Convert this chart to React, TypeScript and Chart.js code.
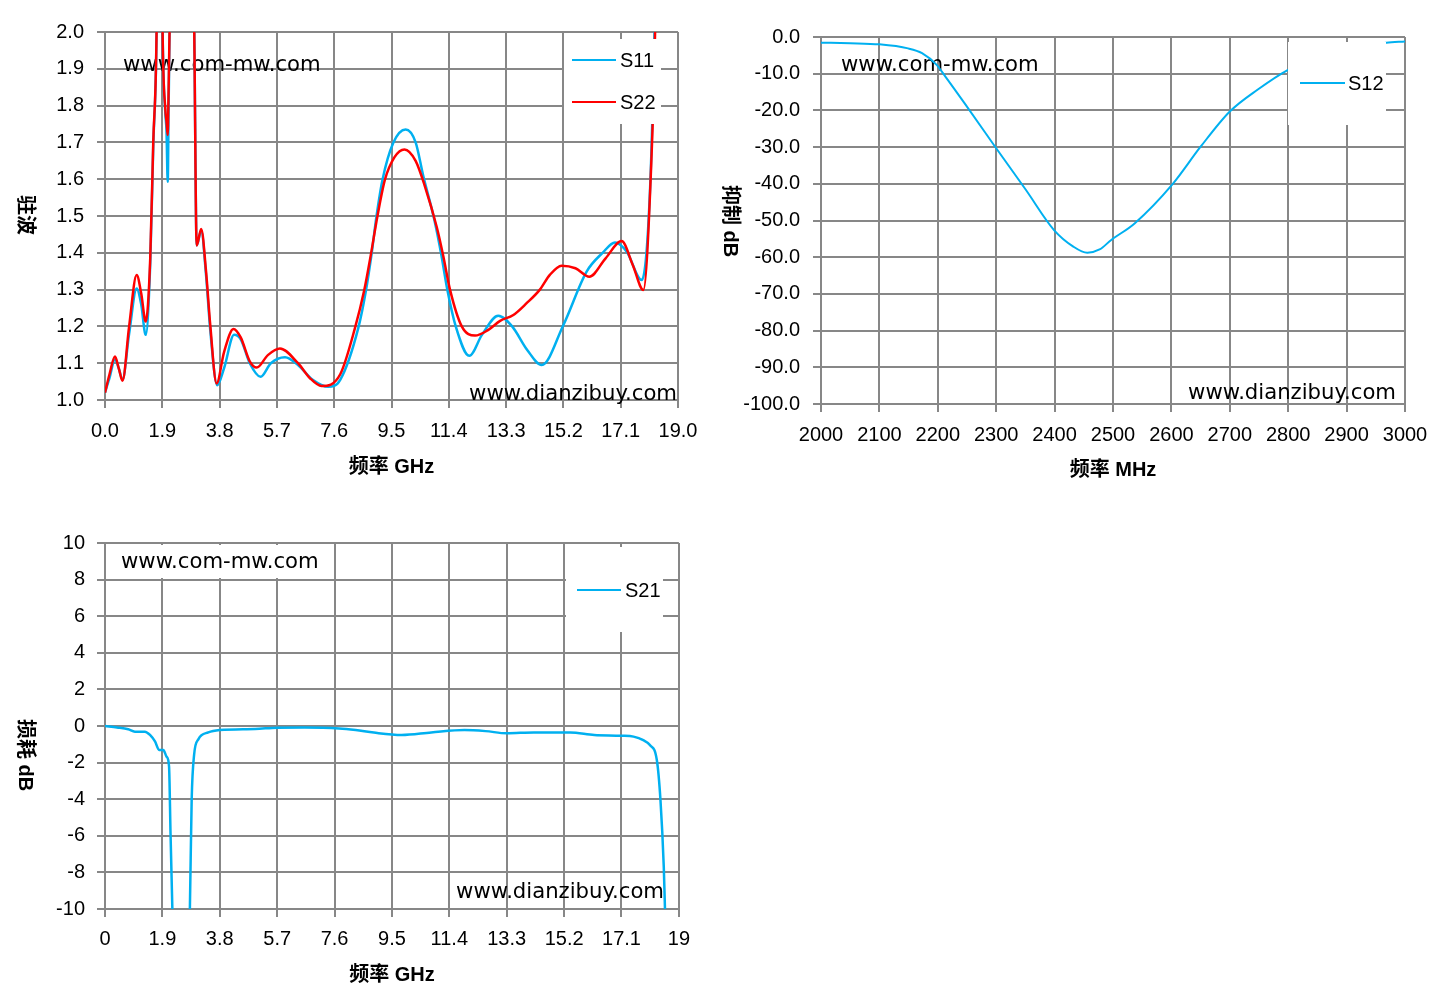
import React, { useEffect, useRef } from 'react';
import { Chart, registerables } from 'chart.js';

Chart.register(...registerables);

// ---------- data ----------
// Chart 1: VSWR (S11 / S22) vs frequency (GHz)
const s11Freq = [0, 0.15, 0.33, 0.46, 0.58, 0.8, 1.05, 1.2, 1.35, 1.5, 1.6, 1.71, 1.81, 1.91, 2.0, 2.04, 2.08, 2.11, 2.14, 2.5, 2.96, 3.04, 3.19, 3.35, 3.49, 3.72, 3.95, 4.28, 4.5, 4.8, 5.16, 5.5, 5.97, 6.4, 6.9, 7.4, 7.8, 8.4, 8.65, 8.84, 9.0, 9.2, 9.56, 9.97, 10.3, 10.55, 10.92, 11.14, 11.35, 11.63, 12.08, 12.5, 13.04, 13.5, 14.0, 14.48, 15.2, 15.97, 16.5, 16.91, 17.3, 17.8, 18.07, 18.22, 18.4];
const s11Vswr = [1.02, 1.06, 1.11, 1.085, 1.055, 1.18, 1.303, 1.26, 1.177, 1.37, 1.69, 2.0, 3.0, 2.0, 1.78, 1.73, 1.593, 1.8, 2.0, 5.0, 2.0, 1.42, 1.46, 1.34, 1.19, 1.04, 1.087, 1.177, 1.165, 1.1, 1.063, 1.1, 1.116, 1.095, 1.054, 1.036, 1.055, 1.196, 1.296, 1.397, 1.498, 1.598, 1.699, 1.735, 1.7, 1.61, 1.49, 1.4, 1.3, 1.2, 1.12, 1.177, 1.229, 1.2, 1.136, 1.095, 1.204, 1.349, 1.4, 1.428, 1.403, 1.326, 1.566, 2.0, 2.8];

const s22Freq = [0, 0.15, 0.33, 0.46, 0.58, 0.8, 1.05, 1.2, 1.35, 1.5, 1.6, 1.71, 1.81, 1.91, 2.0, 2.04, 2.08, 2.11, 2.14, 2.5, 2.96, 3.04, 3.19, 3.35, 3.49, 3.7, 3.95, 4.26, 4.5, 4.8, 5.03, 5.4, 5.8, 6.4, 6.8, 7.18, 7.8, 8.29, 8.59, 8.82, 9.03, 9.28, 9.6, 9.93, 10.3, 10.61, 11.0, 11.22, 11.44, 11.83, 12.27, 12.7, 13.1, 13.54, 13.98, 14.42, 14.75, 15.14, 15.6, 16.06, 16.6, 17.13, 17.5, 17.85, 18.12, 18.24, 18.4];
const s22Vswr = [1.02, 1.07, 1.118, 1.085, 1.052, 1.2, 1.34, 1.29, 1.213, 1.385, 1.7, 2.0, 3.0, 2.0, 1.79, 1.756, 1.72, 1.85, 2.0, 5.0, 2.0, 1.42, 1.465, 1.35, 1.204, 1.045, 1.131, 1.193, 1.17, 1.105, 1.088, 1.122, 1.14, 1.1, 1.059, 1.038, 1.07, 1.196, 1.296, 1.397, 1.498, 1.598, 1.66, 1.681, 1.65, 1.58, 1.47, 1.39, 1.3, 1.2, 1.175, 1.19, 1.215, 1.231, 1.263, 1.3, 1.34, 1.365, 1.358, 1.335, 1.385, 1.432, 1.367, 1.299, 1.657, 2.0, 2.8];

// Chart 2: suppression S12 (dB) vs frequency (MHz)
const s12Freq = [2000, 2050, 2100, 2149, 2173, 2198, 2213, 2246, 2300, 2351, 2399, 2432, 2456, 2477, 2497, 2537, 2602, 2650, 2700, 2748, 2799, 2850, 2900, 2968, 3000];
const s12Db = [-1.55, -1.7, -2.0, -3.1, -4.4, -7.6, -10.8, -18.1, -30.3, -41.7, -52.6, -57.1, -58.8, -57.9, -55.3, -50.8, -40.1, -29.9, -20.3, -14.3, -9.0, -5.5, -3.2, -1.55, -1.2];

// Chart 3: insertion loss S21 (dB) vs frequency (GHz)
const s21Freq = [0, 0.4, 0.77, 0.99, 1.32, 1.49, 1.66, 1.79, 1.93, 2.04, 2.12, 2.17, 2.23, 2.5, 2.81, 2.87, 2.95, 3.09, 3.42, 3.8, 4.97, 5.7, 6.6, 7.75, 8.3, 8.9, 9.82, 10.8, 11.9, 12.6, 13.3, 14.2, 15.4, 16.2, 17.1, 17.5, 17.82, 18.04, 18.27, 18.39, 18.5, 18.54, 18.65];
const s21Db = [0, -0.08, -0.18, -0.31, -0.31, -0.49, -0.86, -1.31, -1.31, -1.68, -2.2, -5.9, -10, -30, -10, -4.0, -1.58, -0.73, -0.35, -0.22, -0.16, -0.09, -0.08, -0.13, -0.22, -0.36, -0.49, -0.35, -0.22, -0.28, -0.4, -0.35, -0.36, -0.49, -0.53, -0.58, -0.77, -1.04, -1.86, -4.04, -7.7, -10, -15];

// labels / texts
const wmTop = 'www.com-mw.com';
const wmBottom = 'www.dianzibuy.com';
const xTitleGHz = '频率 GHz';
const xTitleMHz = '频率 MHz';
const yTitleVswr = '驻波';
const yTitleSup = '抑制 dB';
const yTitleLoss = '损耗 dB';

// ---------- styles ----------
const GRID = '#878787';
const BLUE = '#00B0F0';
const RED = '#FF0000';
const SANS = '"Liberation Sans", Arial, sans-serif';
const TICK_FONT = { family: SANS, size: 20 };
const WM_FONT = '21.2px "DejaVu Sans", sans-serif';
const TITLE_FONT = 'bold 20px "Liberation Sans", "Noto Sans CJK SC", sans-serif';
const LEGEND_FONT = '20px "Liberation Sans", Arial, sans-serif';

const pts = (xs: number[], ys: number[]) => xs.map((x, i) => ({ x, y: ys[i] }));

type PanelCfg = {
  left: number; top: number; width: number; height: number;
  plot: { L: number; T: number; R: number; B: number }; // page coordinates
  datasets: { label: string; color: string; width: number; order: number; data: { x: number; y: number }[] }[];
  x: { min: number; max: number; step: number; fmt: (v: number) => string; pad: number };
  y: { min: number; max: number; step: number; fmt: (v: number) => string; pad: number };
  xTitle: string; xTitlePos: [number, number];
  yTitle: string; yTitlePos: [number, number];
  wm1: [number, number]; wm2: [number, number];
  mask?: [number, number, number, number];
  legend: { box: [number, number, number, number]; ys: number[]; line: [number, number]; textX: number };
};

function makeDecor(cfg: PanelCfg) {
  const ox = cfg.left, oy = cfg.top;
  return {
    id: 'decor',
    beforeDatasetsDraw(chart: any) {
      const ctx = chart.ctx as CanvasRenderingContext2D;
      ctx.save();
      if (cfg.mask) {
        const [mx, my, mw, mh] = cfg.mask;
        ctx.fillStyle = '#ffffff';
        ctx.fillRect(mx - ox, my - oy, mw, mh);
      }
      ctx.fillStyle = '#000000';
      ctx.font = WM_FONT;
      ctx.textBaseline = 'alphabetic';
      ctx.textAlign = 'left';
      ctx.fillText(wmTop, cfg.wm1[0] - ox, cfg.wm1[1] - oy);
      ctx.textAlign = 'right';
      ctx.fillText(wmBottom, cfg.wm2[0] - ox, cfg.wm2[1] - oy);
      ctx.restore();
    },
    afterDatasetsDraw(chart: any) {
      const ctx = chart.ctx as CanvasRenderingContext2D;
      const lg = cfg.legend;
      ctx.save();
      ctx.fillStyle = '#ffffff';
      ctx.fillRect(lg.box[0] - ox, lg.box[1] - oy, lg.box[2], lg.box[3]);
      chart.data.datasets.forEach((ds: any, i: number) => {
        const y = lg.ys[i] - oy;
        ctx.strokeStyle = ds.borderColor;
        ctx.lineWidth = 2;
        ctx.beginPath();
        ctx.moveTo(lg.line[0] - ox, y);
        ctx.lineTo(lg.line[1] - ox, y);
        ctx.stroke();
        ctx.fillStyle = '#000000';
        ctx.font = LEGEND_FONT;
        ctx.textAlign = 'left';
        ctx.textBaseline = 'middle';
        ctx.fillText(ds.label, lg.textX - ox, y + 1);
      });
      ctx.restore();
    },
    afterDraw(chart: any) {
      const ctx = chart.ctx as CanvasRenderingContext2D;
      ctx.save();
      ctx.fillStyle = '#000000';
      ctx.font = TITLE_FONT;
      ctx.textAlign = 'center';
      ctx.textBaseline = 'middle';
      ctx.fillText(cfg.xTitle, cfg.xTitlePos[0] - ox, cfg.xTitlePos[1] - oy);
      ctx.translate(cfg.yTitlePos[0] - ox, cfg.yTitlePos[1] - oy);
      ctx.rotate(Math.PI / 2);
      ctx.fillText(cfg.yTitle, 0, 0);
      ctx.restore();
    },
  };
}

function buildConfig(cfg: PanelCfg): any {
  const p = cfg.plot;
  const yAxisW = p.L - cfg.left;
  const xAxisH = cfg.top + cfg.height - p.B;
  const gridOpts = { color: GRID, lineWidth: 2, tickLength: 8, tickColor: GRID, tickWidth: 2, drawTicks: true };
  return {
    type: 'line',
    data: {
      datasets: cfg.datasets.map((d) => ({
        label: d.label,
        data: d.data,
        order: d.order,
        borderColor: d.color,
        backgroundColor: d.color,
        borderWidth: d.width,
        pointRadius: 0,
        pointHoverRadius: 0,
        fill: false,
        cubicInterpolationMode: 'monotone',
        tension: 0.4,
      })),
    },
    options: {
      responsive: false,
      animation: false,
      events: [],
      layout: {
        padding: { left: 0, top: p.T - cfg.top, right: cfg.left + cfg.width - p.R, bottom: 0 },
      },
      plugins: { legend: { display: false }, tooltip: { enabled: false }, title: { display: false } },
      scales: {
        x: {
          type: 'linear',
          min: cfg.x.min,
          max: cfg.x.max,
          ticks: {
            stepSize: cfg.x.step,
            autoSkip: false,
            maxRotation: 0,
            minRotation: 0,
            padding: cfg.x.pad,
            color: '#000000',
            font: TICK_FONT,
            callback: (v: any) => cfg.x.fmt(Number(v)),
          },
          grid: gridOpts,
          border: { color: GRID, width: 2 },
          afterFit: (s: any) => { s.height = xAxisH; },
        },
        y: {
          type: 'linear',
          min: cfg.y.min,
          max: cfg.y.max,
          ticks: {
            stepSize: cfg.y.step,
            autoSkip: false,
            padding: cfg.y.pad,
            color: '#000000',
            font: TICK_FONT,
            callback: (v: any) => cfg.y.fmt(Number(v)),
          },
          grid: gridOpts,
          border: { color: GRID, width: 2 },
          afterFit: (s: any) => { s.width = yAxisW; },
        },
      },
    },
    plugins: [makeDecor(cfg)],
  };
}

const fix1 = (v: number) => v.toFixed(1);
const fixShort = (v: number) => String(Math.round(v * 10) / 10);

const panel1: PanelCfg = {
  left: 0, top: 0, width: 716, height: 495,
  plot: { L: 105, T: 32, R: 678, B: 400 },
  datasets: [
    { label: 'S11', color: BLUE, width: 2.5, order: 1, data: pts(s11Freq, s11Vswr) },
    { label: 'S22', color: RED, width: 2.5, order: 0, data: pts(s22Freq, s22Vswr) },
  ],
  x: { min: 0, max: 19, step: 1.9, fmt: fix1, pad: 11 },
  y: { min: 1, max: 2, step: 0.1, fmt: fix1, pad: 13 },
  xTitle: xTitleGHz, xTitlePos: [391.5, 467],
  yTitle: yTitleVswr, yTitlePos: [25, 215],
  wm1: [123, 71], wm2: [677, 400],
  legend: { box: [564, 39, 97, 85], ys: [60, 102], line: [572, 616], textX: 620 },
};

const panel2: PanelCfg = {
  left: 700, top: 0, width: 741, height: 495,
  plot: { L: 821, T: 37, R: 1405, B: 404 },
  datasets: [{ label: 'S12', color: BLUE, width: 2, order: 0, data: pts(s12Freq, s12Db) }],
  x: { min: 2000, max: 3000, step: 100, fmt: (v) => String(Math.round(v)), pad: 11 },
  y: { min: -100, max: 0, step: 10, fmt: fix1, pad: 13 },
  xTitle: xTitleMHz, xTitlePos: [1113, 470],
  yTitle: yTitleSup, yTitlePos: [730, 221],
  wm1: [841, 71], wm2: [1396, 399],
  legend: { box: [1288, 42, 98, 83], ys: [83], line: [1300, 1345], textX: 1348 },
};

const panel3: PanelCfg = {
  left: 0, top: 500, width: 700, height: 496,
  plot: { L: 105, T: 543, R: 679, B: 909 },
  datasets: [{ label: 'S21', color: BLUE, width: 2.5, order: 0, data: pts(s21Freq, s21Db) }],
  x: { min: 0, max: 19, step: 1.9, fmt: fixShort, pad: 10 },
  y: { min: -10, max: 10, step: 2, fmt: (v) => String(Math.round(v)), pad: 12 },
  xTitle: xTitleGHz, xTitlePos: [392, 975],
  yTitle: yTitleLoss, yTitlePos: [25, 755],
  wm1: [121, 568], wm2: [664, 898],
  mask: [107, 545, 224, 33],
  legend: { box: [566, 547, 97, 85], ys: [590], line: [577, 621], textX: 625 },
};

function Panel({ cfg }: { cfg: PanelCfg }) {
  const ref = useRef<HTMLCanvasElement | null>(null);
  useEffect(() => {
    if (!ref.current) return;
    const chart = new Chart(ref.current, buildConfig(cfg));
    return () => chart.destroy();
  }, [cfg]);
  return (
    <div style={{ position: 'absolute', left: cfg.left, top: cfg.top, width: cfg.width, height: cfg.height }}>
      <canvas ref={ref} width={cfg.width} height={cfg.height} style={{ display: 'block' }} />
    </div>
  );
}

export default function App() {
  return (
    <div style={{ position: 'absolute', left: 0, top: 0, width: 1441, height: 996, background: '#ffffff' }}>
      <Panel cfg={panel1} />
      <Panel cfg={panel2} />
      <Panel cfg={panel3} />
    </div>
  );
}
